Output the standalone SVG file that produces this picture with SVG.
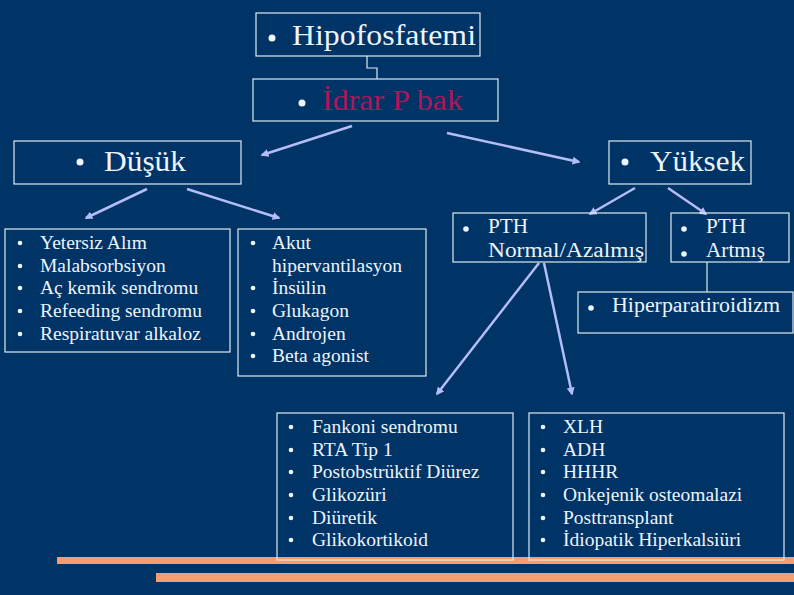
<svg xmlns="http://www.w3.org/2000/svg" width="794" height="595" viewBox="0 0 794 595">
<style>
.box{fill:none;stroke:#dcecf0;stroke-width:1.2}
.t{fill:#eef4fb}
.h{font-size:30px}
.m{font-size:20px}
.l{font-size:19.5px}
.b{fill:#eef4fb}
.c{stroke:#b4bdf7;stroke-width:2.5;fill:none}
.cl{stroke:#dcecf0;stroke-width:1.2;fill:none}
</style>
<defs>
<marker id="ah" viewBox="0 0 10 10" refX="8" refY="5" markerWidth="3.2" markerHeight="3.2" orient="auto" markerUnits="strokeWidth">
<path d="M0,0 L10,5 L0,10 Z" fill="#b4bdf7"/>
</marker>
</defs>
<rect width="794" height="595" fill="#003366"/>
<rect x="57" y="557" width="737" height="7" fill="#fa9b6c"/>
<rect x="156" y="573" width="638" height="9" fill="#fa9b6c"/>

<g id="connectors">
<path class="cl" d="M367,56 V68 H377 V79"/>
<line class="c" x1="352" y1="126" x2="262" y2="155" marker-end="url(#ah)"/>
<line class="c" x1="447" y1="133" x2="579" y2="162" marker-end="url(#ah)"/>
<line class="c" x1="147" y1="189" x2="86" y2="218" marker-end="url(#ah)"/>
<line class="c" x1="187" y1="189" x2="279" y2="218" marker-end="url(#ah)"/>
<line class="c" x1="635" y1="188" x2="590" y2="214" marker-end="url(#ah)"/>
<line class="c" x1="668" y1="188" x2="706" y2="214" marker-end="url(#ah)"/>
<line class="c" x1="539" y1="263" x2="437" y2="394" marker-end="url(#ah)"/>
<line class="c" x1="544" y1="263" x2="572" y2="394" marker-end="url(#ah)"/>
<line class="cl" x1="707" y1="262" x2="707" y2="292"/>
</g>

<g font-family="Liberation Serif, serif">
<g id="hipofosfatemi">
<rect class="box" x="256" y="13" width="224" height="43"/>
<circle class="b" cx="272" cy="38" r="3.5"/>
<text class="t h" x="292" y="45" textLength="184" lengthAdjust="spacingAndGlyphs">Hipofosfatemi</text>
</g>

<g id="idrar">
<rect class="box" x="253" y="79" width="245" height="42"/>
<circle class="b" cx="302" cy="103" r="3.5"/>
<text class="t h" x="322" y="110" style="fill:#a8195c" textLength="141" lengthAdjust="spacingAndGlyphs">İdrar P bak</text>
</g>

<g id="dusuk">
<rect class="box" x="14" y="141" width="227" height="43"/>
<circle class="b" cx="80" cy="162" r="3.5"/>
<text class="t h" x="104" y="171" textLength="82" lengthAdjust="spacingAndGlyphs">Düşük</text>
</g>

<g id="yuksek">
<rect class="box" x="609" y="141" width="142" height="43"/>
<circle class="b" cx="625" cy="162" r="3.5"/>
<text class="t h" x="650" y="171" textLength="95" lengthAdjust="spacingAndGlyphs">Yüksek</text>
</g>

<g id="list-left">
<rect class="box" x="5" y="229" width="225" height="123"/>
<g class="b">
<circle cx="20" cy="243" r="2.3"/><circle cx="20" cy="266" r="2.3"/><circle cx="20" cy="288" r="2.3"/><circle cx="20" cy="311" r="2.3"/><circle cx="20" cy="334" r="2.3"/>
</g>
<text class="t l" x="40" y="249">Yetersiz Alım</text>
<text class="t l" x="40" y="272">Malabsorbsiyon</text>
<text class="t l" x="40" y="294">Aç kemik sendromu</text>
<text class="t l" x="40" y="317">Refeeding sendromu</text>
<text class="t l" x="40" y="340">Respiratuvar alkaloz</text>
</g>

<g id="list-akut">
<rect class="box" x="238" y="229" width="188" height="147"/>
<g class="b">
<circle cx="253" cy="243" r="2.3"/><circle cx="253" cy="288" r="2.3"/><circle cx="253" cy="311" r="2.3"/><circle cx="253" cy="334" r="2.3"/><circle cx="253" cy="356" r="2.3"/>
</g>
<text class="t l" x="272" y="249">Akut</text>
<text class="t l" x="272" y="272">hipervantilasyon</text>
<text class="t l" x="272" y="294">İnsülin</text>
<text class="t l" x="272" y="317">Glukagon</text>
<text class="t l" x="272" y="340">Androjen</text>
<text class="t l" x="272" y="362">Beta agonist</text>
</g>

<g id="pth-normal">
<rect class="box" x="453" y="213" width="193" height="49"/>
<circle class="b" cx="466" cy="229" r="2.8"/>
<text class="t m" x="488" y="233" textLength="40" lengthAdjust="spacingAndGlyphs">PTH</text>
<text class="t m" x="488" y="257" textLength="156" lengthAdjust="spacingAndGlyphs">Normal/Azalmış</text>
</g>

<g id="pth-artmis">
<rect class="box" x="671" y="213" width="118" height="49"/>
<circle class="b" cx="684" cy="229" r="2.8"/>
<circle class="b" cx="684" cy="254" r="2.8"/>
<text class="t m" x="706" y="233" textLength="40" lengthAdjust="spacingAndGlyphs">PTH</text>
<text class="t m" x="706" y="257" textLength="59" lengthAdjust="spacingAndGlyphs">Artmış</text>
</g>

<g id="hiperparatiroidizm">
<rect class="box" x="578" y="292" width="215" height="41"/>
<circle class="b" cx="591" cy="308" r="2.8"/>
<text class="t m" x="612" y="312" textLength="168" lengthAdjust="spacingAndGlyphs">Hiperparatiroidizm</text>
</g>

<g id="list-fankoni">
<rect class="box" x="277" y="413" width="236" height="147"/>
<g class="b">
<circle cx="291" cy="427" r="2.3"/><circle cx="291" cy="450" r="2.3"/><circle cx="291" cy="472" r="2.3"/><circle cx="291" cy="495" r="2.3"/><circle cx="291" cy="518" r="2.3"/><circle cx="291" cy="540" r="2.3"/>
</g>
<text class="t l" x="312" y="433">Fankoni sendromu</text>
<text class="t l" x="312" y="456">RTA Tip 1</text>
<text class="t l" x="312" y="478">Postobstrüktif Diürez</text>
<text class="t l" x="312" y="501">Glikozüri</text>
<text class="t l" x="312" y="524">Diüretik</text>
<text class="t l" x="312" y="546">Glikokortikoid</text>
</g>

<g id="list-xlh">
<rect class="box" x="529" y="413" width="255" height="147"/>
<g class="b">
<circle cx="543" cy="427" r="2.3"/><circle cx="543" cy="450" r="2.3"/><circle cx="543" cy="472" r="2.3"/><circle cx="543" cy="495" r="2.3"/><circle cx="543" cy="518" r="2.3"/><circle cx="543" cy="540" r="2.3"/>
</g>
<text class="t l" x="563" y="433">XLH</text>
<text class="t l" x="563" y="456">ADH</text>
<text class="t l" x="563" y="478">HHHR</text>
<text class="t l" x="563" y="501">Onkejenik osteomalazi</text>
<text class="t l" x="563" y="524">Posttransplant</text>
<text class="t l" x="563" y="546">İdiopatik Hiperkalsiüri</text>
</g>
</g>
</svg>
